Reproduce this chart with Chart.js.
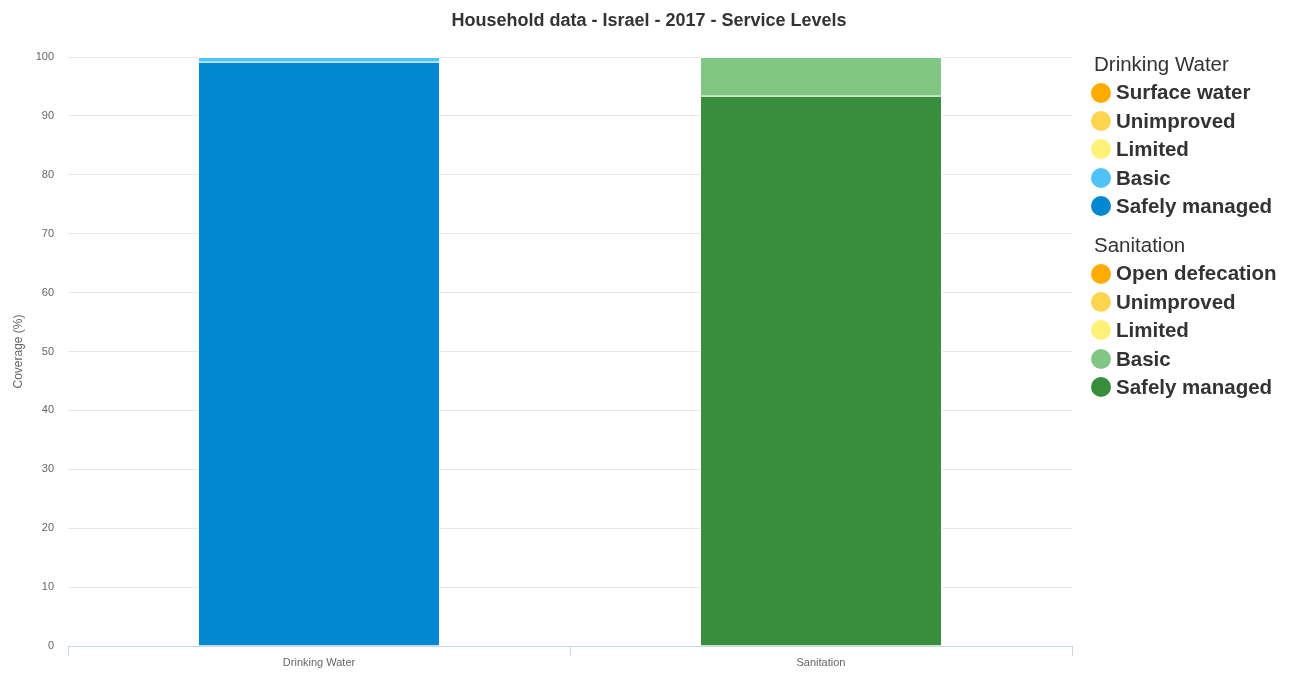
<!DOCTYPE html>
<html>
<head>
<meta charset="utf-8">
<script src="https://cdn.jsdelivr.net/npm/chart.js@4"></script>
<style>
  html, body { margin: 0; padding: 0; background: #fff; }
  #wrap { position: relative; width: 1298px; height: 673px; }
  #legend { position: absolute; left: 1091px; top: 50px; font-family: "Liberation Sans", Arial, sans-serif; color: #333; }
  .lg-head { font-size: 20.5px; line-height: 28.4px; height: 28.4px; padding-left: 3px; }
  .lg-item { font-size: 20.5px; font-weight: bold; line-height: 28.4px; height: 28.4px; display: flex; align-items: center; }
  .lg-dot { width: 20px; height: 20px; border-radius: 50%; margin-right: 5px; }
  .lg-gap { height: 10.6px; }
</style>
</head>
<body>
<div id="wrap">
  <canvas id="chart" width="1298" height="673"></canvas>
  <div id="legend"></div>
</div>
<script>
// datos
const categories = ["Drinking Water", "Sanitation"];
const waterLevels = ["Surface water", "Unimproved", "Limited", "Basic", "Safely managed"];
const waterValues = [0, 0, 0, 0.8, 99.2];
const waterColors = ["#ffab00", "#ffd54f", "#fff176", "#4fc3f7", "#0288d1"];
const sanLevels = ["Open defecation", "Unimproved", "Limited", "Basic", "Safely managed"];
const sanValues = [0, 0, 0, 6.6, 93.4];
const sanColors = ["#ffab00", "#ffd54f", "#fff176", "#81c784", "#388e3c"];
const yTicks = [0, 10, 20, 30, 40, 50, 60, 70, 80, 90, 100];

const font = "'Liberation Sans', Arial, sans-serif";

// ===== datasets: safely managed abajo, así que se recorren al revés =====
const datasets = [];
for (let i = waterLevels.length - 1; i >= 0; i--) {
  datasets.push({
    label: "Drinking Water - " + waterLevels[i],
    data: [waterValues[i], null],
    backgroundColor: waterColors[i],
    borderColor: "#fff",
    borderWidth: 1,
    stack: "s"
  });
}
for (let i = sanLevels.length - 1; i >= 0; i--) {
  datasets.push({
    label: "Sanitation - " + sanLevels[i],
    data: [null, sanValues[i]],
    backgroundColor: sanColors[i],
    borderColor: "#fff",
    borderWidth: 1,
    stack: "s"
  });
}

new Chart(document.getElementById("chart"), {
  type: "bar",
  data: { labels: categories, datasets },
  options: {
    responsive: false,
    animation: false,
    categoryPercentage: 1,
    barPercentage: 0.482,
    layout: { padding: 0 },
    plugins: {
      legend: { display: false },
      tooltip: { enabled: false },
      title: {
        display: true,
        text: "Household data - Israel - 2017 - Service Levels",
        color: "#333",
        font: { family: font, size: 18, weight: "bold" },
        padding: { top: 10, bottom: 25.4 }
      }
    },
    scales: {
      x: {
        stacked: true,
        grid: { drawOnChartArea: false, drawTicks: true, tickLength: 10, color: "#ccd6eb" },
        border: { color: "#ccd6eb" },
        ticks: { color: "#666", font: { family: font, size: 11 }, padding: 0 },
        afterFit: s => { s.height = 27; }
      },
      y: {
        stacked: true,
        min: 0,
        max: 100,
        afterBuildTicks: s => { s.ticks = yTicks.map(v => ({ value: v })); },
        grid: { color: "#e6e6e6", drawTicks: false },
        border: { display: false },
        ticks: { color: "#666", font: { family: font, size: 11 }, padding: 14 },
        title: { display: true, text: "Coverage (%)", color: "#666", font: { family: font, size: 12 }, padding: { top: 11, bottom: 0 } },
        afterFit: s => { s.width = 68; }
      },
      yRight: {
        position: "right",
        display: true,
        grid: { display: false },
        border: { display: false },
        ticks: { display: false },
        afterFit: s => { s.width = 226; }
      }
    }
  }
});

// ===== leyenda agrupada =====
const legend = document.getElementById("legend");
function addGroup(title, levels, colors) {
  const h = document.createElement("div");
  h.className = "lg-head";
  h.textContent = title;
  legend.appendChild(h);
  levels.forEach((name, i) => {
    const row = document.createElement("div");
    row.className = "lg-item";
    const dot = document.createElement("span");
    dot.className = "lg-dot";
    dot.style.background = colors[i];
    row.appendChild(dot);
    row.appendChild(document.createTextNode(name));
    legend.appendChild(row);
  });
}
addGroup("Drinking Water", waterLevels, waterColors);
const gap = document.createElement("div");
gap.className = "lg-gap";
legend.appendChild(gap);
addGroup("Sanitation", sanLevels, sanColors);
</script>
</body>
</html>
